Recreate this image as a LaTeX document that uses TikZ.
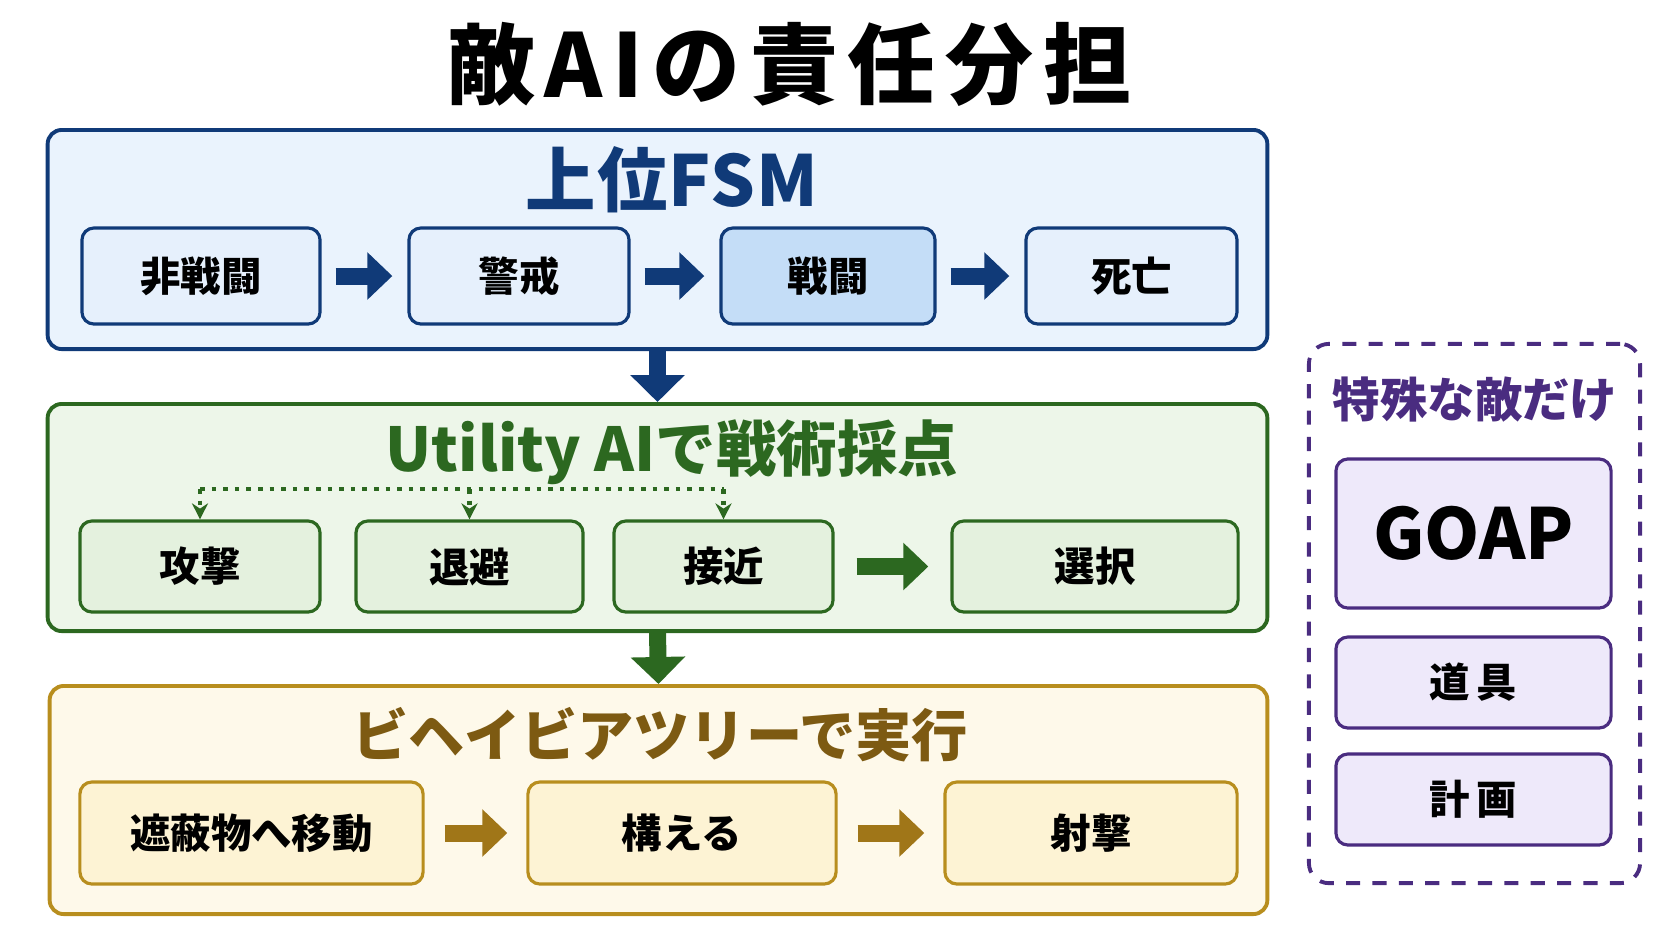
\documentclass[tikz,border=0pt]{standalone}
\usepackage{fontspec}
\setmainfont{Noto Sans CJK JP}
\setsansfont{Noto Sans CJK JP}
\usepackage{tikz}
\usetikzlibrary{positioning, arrows.meta}
\definecolor{fsm_blue}{RGB}{16, 58, 120}
\definecolor{fsm_fill}{RGB}{234, 243, 253}
\definecolor{state_fill}{RGB}{230, 240, 252}
\definecolor{combat_fill}{RGB}{196, 221, 247}
\definecolor{util_green}{RGB}{44, 104, 32}
\definecolor{util_fill}{RGB}{237, 246, 233}
\definecolor{opt_fill}{RGB}{228, 241, 222}
\definecolor{bt_gold}{RGB}{184, 142, 30}
\definecolor{bt_text}{RGB}{125, 90, 18}
\definecolor{bt_arrow}{RGB}{160, 118, 24}
\definecolor{bt_fill}{RGB}{254, 249, 234}
\definecolor{act_fill}{RGB}{253, 243, 212}
\definecolor{goap_purple}{RGB}{74, 44, 128}
\definecolor{goap_fill}{RGB}{238, 233, 250}

\begin{document}
\begin{tikzpicture}[x=0.01cm, y=-0.01cm, font=\bfseries,
      panel/.style={line width=1.1pt, rounded corners=0.14cm, inner sep=0pt},
      fsmbox/.style={panel, draw=fsm_blue, fill=fsm_fill},
      utilbox/.style={panel, draw=util_green, fill=util_fill},
      btbox/.style={panel, draw=bt_gold, fill=bt_fill},
      specbox/.style={panel, draw=goap_purple, dashed, dash pattern=on 4pt off 3.5pt, rounded corners=0.2cm},
      item/.style={line width=0.9pt, rounded corners=0.12cm, align=center, inner sep=0pt,
        font=\fontsize{11.5}{13}\selectfont\bfseries},
      fsmstate/.style={item, draw=fsm_blue, fill=state_fill, minimum height=0.96cm},
      option/.style={item, draw=util_green, fill=opt_fill, minimum height=0.91cm},
      action/.style={item, draw=bt_gold, fill=act_fill, minimum height=1.02cm},
      goapitem/.style={item, draw=goap_purple, fill=goap_fill, minimum width=2.75cm},
      heading/.style={inner sep=0pt, font=\fontsize{#1}{#1}\selectfont\bfseries},
      blockarrow/.style={line width=0.17cm, shorten <=0.14cm, shorten >=0.15cm,
        -{Triangle[length=0.25cm, width=0.46cm]}},
      dotline/.style={draw=util_green, line width=1.3pt, dotted, -{Stealth[length=1.6mm, width=1.6mm]}}]
    \useasboundingbox (0,0) rectangle (1672,941);
    \node[heading=25] (title) at (789,64) {\addfontfeature{LetterSpace=11}敵AIの責任分担};

    \node[fsmbox, minimum width=12.19cm, minimum height=2.19cm] (fsm) at (657.5,239.5) {};
    \node[heading=20, text=fsm_blue] (fsmt) at (672,180) {\addfontfeature{LetterSpace=2}上位FSM};
    \node[fsmstate, minimum width=2.38cm] (calm)   at (201,276)    {非戦闘};
    \node[fsmstate, minimum width=2.20cm] (alert)  at (519,276)    {警戒};
    \node[fsmstate, minimum width=2.14cm, fill=combat_fill] (combat) at (828,276) {戦闘};
    \node[fsmstate, minimum width=2.11cm] (dead)   at (1131.5,276) {死亡};
    \draw[blockarrow, fsm_blue] (calm) -- (alert);
    \draw[blockarrow, fsm_blue] (alert) -- (combat);
    \draw[blockarrow, fsm_blue] (combat) -- (dead);

    \node[utilbox, minimum width=12.19cm, minimum height=2.27cm] (util) at (657.5,517.5) {};
    \node[heading=17.2, text=util_green] (utilt) at (672,452) {Utility AIで戦術採点};
    \node[option, minimum width=2.40cm] (atk)   at (200,566.5)   {攻撃};
    \node[option, minimum width=2.27cm] (evade) at (469.5,566.5) {退避};
    \node[option, minimum width=2.19cm] (appr)  at (723.5,566.5) {接近};
    \node[option, minimum width=2.86cm] (pick)  at (1095,566.5)  {選択};
    \coordinate (bar) at (0,489);
    \draw[dotline, -] (atk.north |- bar) -- (appr.north |- bar);
    \foreach \n in {atk, evade, appr}
      \draw[dotline] (\n.north |- bar) -- (\n.north);
    \draw[blockarrow, util_green, shorten <=0.22cm, shorten >=0.22cm] (appr) -- (pick);

    \node[btbox, minimum width=12.17cm, minimum height=2.28cm] (bt) at (658.5,800) {};
    \node[heading=16, text=bt_text] (btt) at (660,735) {ビヘイビアツリーで実行};
    \node[action, minimum width=3.43cm] (cover) at (251.5,833) {遮蔽物へ移動};
    \node[action, minimum width=3.08cm] (aim)   at (682,833)   {構える};
    \node[action, minimum width=2.92cm] (shoot) at (1091,833)  {射撃};
    \draw[blockarrow, bt_arrow, shorten <=0.2cm, shorten >=0.19cm] (cover) -- (aim);
    \draw[blockarrow, bt_arrow, shorten <=0.2cm, shorten >=0.19cm] (aim) -- (shoot);

    \draw[blockarrow, fsm_blue, shorten <=0pt, shorten >=0pt,
      -{Triangle[length=0.27cm, width=0.53cm]}] (fsm.south) -- (util.north);
    \draw[blockarrow, util_green, shorten <=0pt, shorten >=0pt,
      -{Triangle[length=0.27cm, width=0.53cm]}] (util.south) -- (bt.north);

    \node[specbox, minimum width=3.31cm, minimum height=5.39cm] (spec) at (1474.5,613.5) {};
    \node[heading=13.5, text=goap_purple] (spect) at (1475,400) {特殊な敵だけ};
    \node[goapitem, minimum height=1.49cm, font=\fontsize{20}{22}\selectfont\bfseries] (goap) at (1473.5,533.5) {GOAP};
    \node[goapitem, minimum height=0.91cm] (tool) at (1473.5,682.5) {道\,具};
    \node[goapitem, minimum height=0.91cm] (plan) at (1473.5,799.5) {計\,画};
  \end{tikzpicture}
\end{document}
